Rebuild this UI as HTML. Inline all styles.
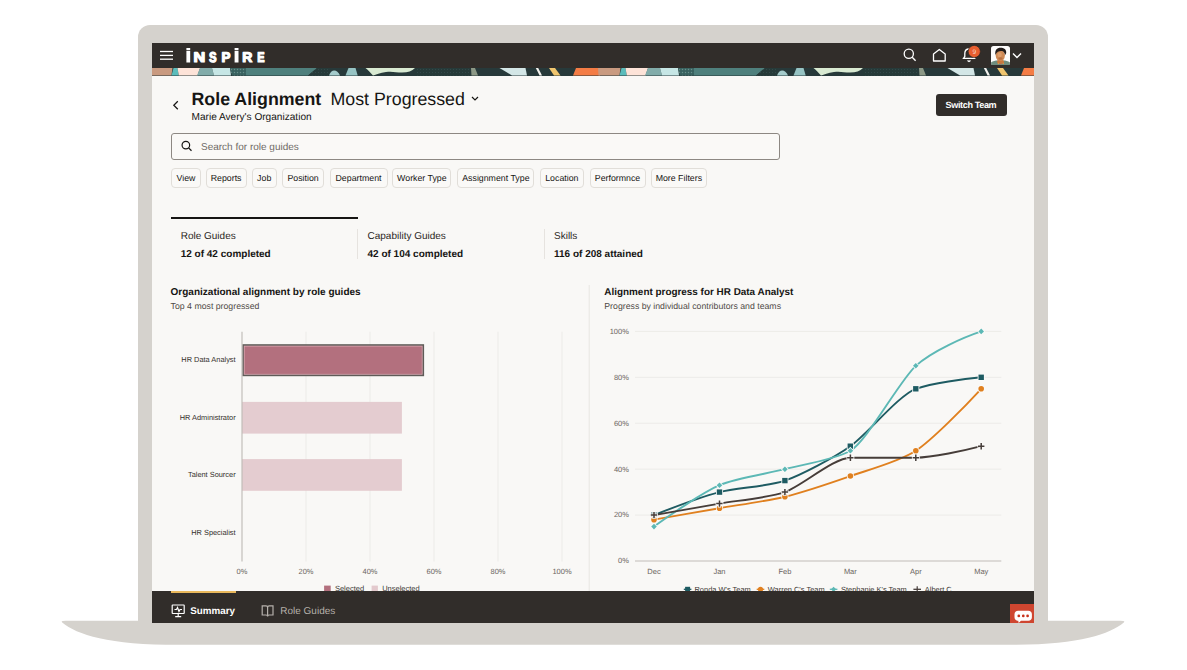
<!DOCTYPE html>
<html><head><meta charset="utf-8">
<style>
*{margin:0;padding:0;box-sizing:border-box}
html,body{width:1187px;height:670px;overflow:hidden;background:#fff}
body{position:relative;font-family:"Liberation Sans",sans-serif;color:#161513;text-rendering:geometricPrecision}
.a{position:absolute;white-space:nowrap;line-height:1}
#lid{position:absolute;left:138px;top:25px;width:910px;height:600px;background:#d5d2cd;border-radius:12px 12px 0 0}
#screen{position:absolute;left:152px;top:43px;width:882px;height:580px;background:#f9f8f6;overflow:hidden}
#nav{position:absolute;left:152px;top:43px;width:882px;height:25px;background:#312d2a}
#bot{position:absolute;left:152px;top:591px;width:882px;height:32px;background:#312d2a}
.chip{position:absolute;top:168px;height:19.5px;border:1px solid #e1ded9;border-radius:4px;background:#faf9f7;font-size:8.8px;line-height:18.3px;text-align:center;color:#161513}
.lbl{font-size:7.4px;color:#3a3632}
.ax{font-size:7.4px;color:#5b5652}
</style></head><body>
<div id="lid"></div>
<svg class="a" style="left:0;top:0" width="1187" height="670"><path d="M66,620.8 L1120,620.8 Q1125.8,620.8 1123.8,622.4 C1108.6,635 1075.6,645.5 1000,644.8 L186,644.8 C110.4,645.5 77.4,635 62.2,622.4 Q60.2,620.8 66,620.8Z" fill="#d5d2cd"/></svg>
<div id="screen"></div>
<div id="nav"></div>
<!-- banner -->
<svg class="a" style="left:152px;top:68px" width="882" height="8" viewBox="152 68 882 8" preserveAspectRatio="none">
<defs><pattern id="tx" width="3" height="3" patternUnits="userSpaceOnUse"><rect width="3" height="3" fill="#3d6866"/><rect width="1" height="1" fill="#6b8f8a"/><rect x="1.5" y="1.5" width="1" height="1" fill="#2c4a49"/></pattern>
<pattern id="tx2" width="3" height="3" patternUnits="userSpaceOnUse"><rect width="3" height="3" fill="#263a39"/><rect width="1" height="1" fill="#33494a"/></pattern></defs>
<rect x="152" y="68" width="882" height="8" fill="#27393a"/>
<g id="bp">
<polygon points="150,68 172.5,68 171.5,75.5 150.5,75.5" fill="#c99a80"/>
<polygon points="173.5,68 177.5,68 178.8,75.5 171.5,75.5" fill="#5bbcbb"/>
<polygon points="177.5,68 200,68 197.5,75.5 178.8,75.5" fill="#fde3d8"/>
<polygon points="200,68 212,68 214,75.5 197,75.5" fill="#82acaa"/>
<polygon points="212,68 230,68 231,75.5 214,75.5" fill="#c6e6e5"/>
<polygon points="230,68 246,68 246,75.5 232,75.5" fill="url(#tx)"/>
<polygon points="246,68 317,68 308,75.5 246,75.5" fill="#4f807d"/>
<polygon points="317,68 330,68 330,75.5 308,75.5" fill="url(#tx2)"/>
<path d="M329,75.5 C331,69 337,68.5 340,75.5Z" fill="#a4cbcb"/>
<polygon points="348.5,68 355.5,68 357.7,75.5 345.5,75.5" fill="#96c3c3"/>
<path d="M365.5,68 L415,68 C412,71 408,72.5 402,72.5 C396,72.5 392,71 386,72 C380,73 376,74.5 373,75.5 C370,72 368,70 365.5,68Z" fill="#d9ead2"/>
<polygon points="415,68 470,68 470,75.5 415,75.5" fill="url(#tx2)"/>
<polygon points="471,68 475,68 478,75.5 471.5,75.5" fill="#8c9886"/>
<polygon points="499.5,68 525.5,68 527,75.5 512,75.5" fill="#d3e6e6"/>
<polygon points="535.8,68 538.2,68 542,75.5 539.6,75.5" fill="#f4f2ee"/>
<polygon points="549,68 555,68 560.5,75.5 554,75.5" fill="#f0c56e"/>
<polygon points="576,68 599,68 600,75.5 573,75.5" fill="#f47c45"/>
</g>
<use href="#bp" x="448"/>
</svg>
<!-- nav contents -->
<svg class="a" style="left:159px;top:50px" width="15" height="11"><g stroke="#fff" stroke-width="1.3"><line x1="1" y1="1.5" x2="14" y2="1.5"/><line x1="1" y1="5.4" x2="14" y2="5.4"/><line x1="1" y1="9.2" x2="14" y2="9.2"/></g></svg>
<svg class="a" style="left:0;top:0" width="300" height="70"><g fill="#fff"><path d="M186.4,51.1h3.8v11.4h-3.8z M186.4,47.9h3.8v2.4h-3.8z M234.6,51.1h3.9v11.4h-3.9z M234.6,47.9h3.9v2.4h-3.9z"/><g font-size="14.0" font-weight="bold" stroke="#fff" stroke-width="1.2" stroke-linejoin="round"><text transform="translate(193.42,61.9) scale(1.156,1)">N</text><text transform="translate(209.06,61.9) scale(0.811,1)">S</text><text transform="translate(221.47,61.9) scale(0.955,1)">P</text><text transform="translate(242.26,61.9) scale(1.000,1)">R</text><text transform="translate(257.31,61.9) scale(0.784,1)">E</text></g></g></svg>
<svg class="a" style="left:900px;top:44px" width="130" height="24">
<g fill="none" stroke="#fff" stroke-width="1.3">
<circle cx="8.8" cy="9.8" r="4.6"/><line x1="12.2" y1="13.2" x2="15.6" y2="16.8"/>
<path d="M33.5,17 L33.5,10 L39.3,5.5 L45.2,10 L45.2,17Z" stroke-linejoin="round"/>
<path d="M63.5,14.3 L64.8,12.5 L64.8,9.5 C64.8,6.5 66.5,5 69,5 C71.5,5 73.2,6.5 73.2,9.5 L73.2,12.5 L74.5,14.3Z"/>
<path d="M67.5,16.5 L69,17.5 L70.5,16.5"/>
</g>
<circle cx="74.25" cy="7.5" r="6.1" fill="#e85e2f" stroke="#2a2624" stroke-width=".7"/>
<text x="74.4" y="9.9" font-size="6.6" fill="#f6d8cc" text-anchor="middle" font-family="Liberation Sans">9</text>
<path d="M113,9.5 L117,13.5 L121,9.5" fill="none" stroke="#fff" stroke-width="1.4"/>
</svg>
<svg class="a" style="left:991px;top:45.7px" width="19" height="19.4" viewBox="0 0 19 19.4">
<defs><clipPath id="av"><rect width="19" height="19.4" rx="2.6"/></clipPath></defs>
<g clip-path="url(#av)">
<rect width="19" height="19.4" fill="#fdfcfb"/>
<path d="M0,19.4 L0,16.5 C2,15.2 4.5,14.6 6.5,14.6 L12.5,14.6 C14.5,14.6 17,15.2 19,16.5 L19,19.4Z" fill="#6e8d7e"/>
<rect x="6" y="14" width="7" height="3.2" rx="1.5" fill="#c9783d"/>
<circle cx="7.5" cy="17.5" r=".8" fill="#e8903a"/><circle cx="10" cy="17.8" r=".8" fill="#e06a3a"/><circle cx="12.3" cy="17.5" r=".8" fill="#e8903a"/>
<ellipse cx="9.3" cy="9.6" rx="4.6" ry="5.4" fill="#cf8a55"/>
<ellipse cx="8.6" cy="8.8" rx="2.2" ry="2.6" fill="#e3a572" opacity=".7"/>
<ellipse cx="9.5" cy="12.5" rx="2" ry="1.2" fill="#a95f36" opacity=".6"/>
<path d="M4.4,9 C3.6,4.2 6,1.8 9.4,1.8 C13,1.8 15.6,3.6 15.2,7 C14.8,8.2 14.4,8.4 14,9.2 C13.8,6.5 12.5,5.2 10.5,5 C8.2,4.8 6,5.6 4.4,9Z" fill="#221b19"/>
</g></svg>
<!-- header -->
<svg class="a" style="left:171px;top:100px" width="10" height="12"><path d="M6.8,1.3 L2.8,5.3 L6.8,9.3" fill="none" stroke="#161513" stroke-width="1.25"/></svg>
<div class="a" id="t1" style="left:191.5px;top:91.2px;font-size:17.8px;font-weight:bold">Role Alignment</div>
<div class="a" id="t2" style="left:330.5px;top:91.2px;font-size:17.8px">Most Progressed</div>
<svg class="a" style="left:469.5px;top:95px" width="10" height="8"><path d="M2,2 L5,5 L8,2" fill="none" stroke="#161513" stroke-width="1.2"/></svg>
<div class="a" id="t3" style="left:191.5px;top:112.6px;font-size:10.1px">Marie Avery's Organization</div>
<div class="a" style="left:936px;top:94px;width:71px;height:22px;background:#312d2a;border-radius:3px"></div>
<div class="a" id="t4" style="left:945.6px;top:101.4px;font-size:9.1px;font-weight:bold;color:#fff;letter-spacing:-0.38px">Switch Team</div>
<!-- search -->
<div class="a" style="left:171px;top:132.5px;width:609px;height:27.5px;border:1px solid #8d8883;border-radius:3px;background:#faf9f7"></div>
<svg class="a" style="left:180px;top:140px" width="14" height="14"><circle cx="5.85" cy="5.1" r="3.8" fill="none" stroke="#161513" stroke-width="1.2"/><line x1="8.6" y1="7.9" x2="11.5" y2="10.8" stroke="#161513" stroke-width="1.3"/></svg>
<div class="a" id="t5" style="left:201px;top:143px;font-size:10px;color:#6f6a66">Search for role guides</div>
<!-- chips -->
<div class="chip" style="left:171px;width:30px">View</div>
<div class="chip" style="left:205.6px;width:41px">Reports</div>
<div class="chip" style="left:251.7px;width:25px">Job</div>
<div class="chip" style="left:282px;width:42.2px">Position</div>
<div class="chip" style="left:329.5px;width:58px">Department</div>
<div class="chip" style="left:392.4px;width:59px">Worker Type</div>
<div class="chip" style="left:457.3px;width:77.2px">Assignment Type</div>
<div class="chip" style="left:539.7px;width:44.3px">Location</div>
<div class="chip" style="left:589.5px;width:56px">Performnce</div>
<div class="chip" style="left:650.5px;width:56.7px">More Filters</div>
<!-- tabs -->
<div class="a" style="left:171px;top:216.5px;width:186.5px;height:2.5px;background:#161513"></div>
<div class="a" style="left:357px;top:229px;width:1px;height:30px;background:#e6e3df"></div>
<div class="a" style="left:543.5px;top:229px;width:1px;height:30px;background:#e6e3df"></div>
<div class="a" style="left:180.7px;top:231.8px;font-size:10px;color:#2b2724">Role Guides</div>
<div class="a" style="left:180.7px;top:250.3px;font-size:10px;font-weight:bold">12 of 42 completed</div>
<div class="a" style="left:367.5px;top:231.8px;font-size:10px;color:#2b2724">Capability Guides</div>
<div class="a" style="left:367.5px;top:250.3px;font-size:10px;font-weight:bold">42 of 104 completed</div>
<div class="a" style="left:554px;top:231.8px;font-size:10px;color:#2b2724">Skills</div>
<div class="a" style="left:554px;top:250.3px;font-size:10px;font-weight:bold">116 of 208 attained</div>
<div class="a" style="left:170.6px;top:287.8px;font-size:10px;font-weight:bold">Organizational alignment by role guides</div>
<div class="a" style="left:170.6px;top:301.7px;font-size:8.74px;color:#4f4a46">Top 4 most progressed</div>
<div class="a" style="left:604.3px;top:287.6px;font-size:9.91px;font-weight:bold">Alignment progress for HR Data Analyst</div>
<div class="a" style="left:604.3px;top:301.5px;font-size:8.74px;color:#4f4a46">Progress by individual contributors and teams</div>
<!--CH--><svg class="a" style="left:0;top:0" width="1187" height="670" font-family="Liberation Sans">
<g stroke="#ecebe8" stroke-width="1"><line x1="306" y1="331.7" x2="306" y2="561.5"/><line x1="370" y1="331.7" x2="370" y2="561.5"/><line x1="434" y1="331.7" x2="434" y2="561.5"/><line x1="498" y1="331.7" x2="498" y2="561.5"/><line x1="562" y1="331.7" x2="562" y2="561.5"/></g>
<rect x="242.3" y="344.2" width="181.8" height="32" fill="#5f5b58"/>
<rect x="243.8" y="345.7" width="178.8" height="29" fill="#dba9b2"/>
<rect x="244.6" y="346.5" width="177.2" height="27.4" fill="#b3707e"/>
<rect x="242" y="401.9" width="159.9" height="31.7" fill="#e3c9cd" fill-opacity=".95"/>
<rect x="242" y="459.1" width="159.9" height="31.7" fill="#e3c9cd" fill-opacity=".95"/>
<line x1="242" y1="331.7" x2="242" y2="561.5" stroke="#bdb9b5" stroke-width="1.1"/>
<g font-size="7.4" fill="#34302c" text-anchor="end"><text x="235.6" y="362.2">HR Data Analyst</text><text x="235.6" y="419.7">HR Administrator</text><text x="235.6" y="477.2">Talent Sourcer</text><text x="235.6" y="534.5">HR Specialist</text></g>
<g font-size="7.5" fill="#6b6560" text-anchor="middle"><text x="242" y="574">0%</text><text x="306" y="574">20%</text><text x="370" y="574">40%</text><text x="434" y="574">60%</text><text x="498" y="574">80%</text><text x="562" y="574">100%</text></g>
<rect x="324.1" y="585.6" width="6.6" height="6.6" fill="#b3707e"/><rect x="371.6" y="585.6" width="6.3" height="6.6" fill="#e3c9cd"/>
<g font-size="7.5" fill="#3a3632"><text x="334.9" y="591.3">Selected</text><text x="382.2" y="591.3">Unselected</text></g>
<line x1="589.2" y1="285" x2="589.2" y2="591" stroke="#e8e6e3" stroke-width="1"/>
<g stroke="#ecebe8" stroke-width="1"><line x1="635" y1="515.08" x2="1001.3" y2="515.08"/><line x1="635" y1="469.16" x2="1001.3" y2="469.16"/><line x1="635" y1="423.24" x2="1001.3" y2="423.24"/><line x1="635" y1="377.32" x2="1001.3" y2="377.32"/><line x1="635" y1="331.40" x2="1001.3" y2="331.40"/></g>
<line x1="635" y1="561.0" x2="1001.3" y2="561.0" stroke="#d3d0cc" stroke-width="1.4"/>
<g font-size="7.5" fill="#6b6560" text-anchor="end"><text x="628.9" y="563.3">0%</text><text x="628.9" y="517.4">20%</text><text x="628.9" y="471.5">40%</text><text x="628.9" y="425.5">60%</text><text x="628.9" y="379.6">80%</text><text x="628.9" y="333.7">100%</text></g>
<g font-size="7.5" fill="#6b6560" text-anchor="middle"><text x="654" y="574.1">Dec</text><text x="719.45" y="574.1">Jan</text><text x="784.9" y="574.1">Feb</text><text x="850.35" y="574.1">Mar</text><text x="915.8" y="574.1">Apr</text><text x="981.25" y="574.1">May</text></g>
<path d="M654.00,515.08C670.36,508.62 703.09,496.43 719.45,492.12C735.81,487.81 768.54,486.38 784.90,480.64C801.26,474.90 833.99,457.68 850.35,446.20C866.71,434.72 899.44,394.54 915.80,388.80C932.16,383.06 964.89,378.75 981.25,377.32" fill="none" stroke="#1e5b62" stroke-width="1.9"/>
<path d="M654.00,519.67C670.36,516.80 703.09,511.06 719.45,508.19C735.81,505.32 768.54,500.73 784.90,496.71C801.26,492.69 833.99,481.79 850.35,476.05C866.71,470.31 899.44,461.70 915.80,450.79C932.16,439.89 964.89,406.59 981.25,388.80" fill="none" stroke="#e0801f" stroke-width="1.9"/>
<path d="M654.00,526.56C670.36,514.65 703.09,492.41 719.45,485.23C735.81,478.06 768.54,473.46 784.90,469.16C801.26,464.85 833.99,459.98 850.35,450.79C866.71,441.61 899.44,380.76 915.80,365.84C932.16,350.92 964.89,336.85 981.25,331.40" fill="none" stroke="#5cb8b5" stroke-width="1.9"/>
<path d="M654.00,515.08C670.36,512.21 703.09,506.47 719.45,503.60C735.81,500.73 768.54,497.86 784.90,492.12C801.26,486.38 833.99,457.68 850.35,457.68C866.71,457.68 899.44,457.68 915.80,457.68C932.16,457.68 964.89,450.50 981.25,446.20" fill="none" stroke="#463d39" stroke-width="1.9"/>
<rect x="651.3" y="512.4" width="5.4" height="5.4" fill="#1e5b62" stroke="#fbfaf9" stroke-width="1.6" paint-order="stroke"/>
<rect x="716.8" y="489.4" width="5.4" height="5.4" fill="#1e5b62" stroke="#fbfaf9" stroke-width="1.6" paint-order="stroke"/>
<rect x="782.2" y="477.9" width="5.4" height="5.4" fill="#1e5b62" stroke="#fbfaf9" stroke-width="1.6" paint-order="stroke"/>
<rect x="847.6" y="443.5" width="5.4" height="5.4" fill="#1e5b62" stroke="#fbfaf9" stroke-width="1.6" paint-order="stroke"/>
<rect x="913.1" y="386.1" width="5.4" height="5.4" fill="#1e5b62" stroke="#fbfaf9" stroke-width="1.6" paint-order="stroke"/>
<rect x="978.5" y="374.6" width="5.4" height="5.4" fill="#1e5b62" stroke="#fbfaf9" stroke-width="1.6" paint-order="stroke"/>
<circle cx="654.0" cy="519.7" r="2.8" fill="#e0801f" stroke="#fbfaf9" stroke-width="1.6" paint-order="stroke"/>
<circle cx="719.5" cy="508.2" r="2.8" fill="#e0801f" stroke="#fbfaf9" stroke-width="1.6" paint-order="stroke"/>
<circle cx="784.9" cy="496.7" r="2.8" fill="#e0801f" stroke="#fbfaf9" stroke-width="1.6" paint-order="stroke"/>
<circle cx="850.4" cy="476.0" r="2.8" fill="#e0801f" stroke="#fbfaf9" stroke-width="1.6" paint-order="stroke"/>
<circle cx="915.8" cy="450.8" r="2.8" fill="#e0801f" stroke="#fbfaf9" stroke-width="1.6" paint-order="stroke"/>
<circle cx="981.2" cy="388.8" r="2.8" fill="#e0801f" stroke="#fbfaf9" stroke-width="1.6" paint-order="stroke"/>
<path d="M654.0,523.8l2.8,2.8l-2.8,2.8l-2.8,-2.8z" fill="#5cb8b5" stroke="#fbfaf9" stroke-width="1.6" paint-order="stroke"/>
<path d="M719.5,482.4l2.8,2.8l-2.8,2.8l-2.8,-2.8z" fill="#5cb8b5" stroke="#fbfaf9" stroke-width="1.6" paint-order="stroke"/>
<path d="M784.9,466.4l2.8,2.8l-2.8,2.8l-2.8,-2.8z" fill="#5cb8b5" stroke="#fbfaf9" stroke-width="1.6" paint-order="stroke"/>
<path d="M850.4,448.0l2.8,2.8l-2.8,2.8l-2.8,-2.8z" fill="#5cb8b5" stroke="#fbfaf9" stroke-width="1.6" paint-order="stroke"/>
<path d="M915.8,363.0l2.8,2.8l-2.8,2.8l-2.8,-2.8z" fill="#5cb8b5" stroke="#fbfaf9" stroke-width="1.6" paint-order="stroke"/>
<path d="M981.2,328.6l2.8,2.8l-2.8,2.8l-2.8,-2.8z" fill="#5cb8b5" stroke="#fbfaf9" stroke-width="1.6" paint-order="stroke"/>
<path d="M650.1,515.1h7.8M654.0,511.2v7.8" stroke="#fbfaf9" stroke-width="3.2"/><path d="M650.8,515.1h6.4M654.0,511.9v6.4" stroke="#463d39" stroke-width="1.5"/>
<path d="M715.6,503.6h7.8M719.5,499.7v7.8" stroke="#fbfaf9" stroke-width="3.2"/><path d="M716.2,503.6h6.4M719.5,500.4v6.4" stroke="#463d39" stroke-width="1.5"/>
<path d="M781.0,492.1h7.8M784.9,488.2v7.8" stroke="#fbfaf9" stroke-width="3.2"/><path d="M781.7,492.1h6.4M784.9,488.9v6.4" stroke="#463d39" stroke-width="1.5"/>
<path d="M846.5,457.7h7.8M850.4,453.8v7.8" stroke="#fbfaf9" stroke-width="3.2"/><path d="M847.1,457.7h6.4M850.4,454.5v6.4" stroke="#463d39" stroke-width="1.5"/>
<path d="M911.9,457.7h7.8M915.8,453.8v7.8" stroke="#fbfaf9" stroke-width="3.2"/><path d="M912.6,457.7h6.4M915.8,454.5v6.4" stroke="#463d39" stroke-width="1.5"/>
<path d="M977.4,446.2h7.8M981.2,442.3v7.8" stroke="#fbfaf9" stroke-width="3.2"/><path d="M978.0,446.2h6.4M981.2,443.0v6.4" stroke="#463d39" stroke-width="1.5"/>
<line x1="683.8000000000001" y1="589.3" x2="691.4" y2="589.3" stroke="#1e5b62" stroke-width="1.3"/>
<rect x="685.1" y="586.8" width="5" height="5" fill="#1e5b62"/>
<text x="694.5" y="592" font-size="7.45" fill="#3a3632">Ronda W's Team</text>
<line x1="756.7" y1="589.3" x2="764.3" y2="589.3" stroke="#e0801f" stroke-width="1.3"/>
<circle cx="760.5" cy="589.3" r="2.6" fill="#e0801f"/>
<text x="767.8" y="592" font-size="7.45" fill="#3a3632">Warren C's Team</text>
<line x1="829.8000000000001" y1="589.3" x2="837.4" y2="589.3" stroke="#5cb8b5" stroke-width="1.3"/>
<path d="M833.6,586.6999999999999l2.6,2.6l-2.6,2.6l-2.6,-2.6z" fill="#5cb8b5"/>
<text x="841" y="592" font-size="7.45" fill="#3a3632">Stephanie K's Team</text>
<line x1="913.4000000000001" y1="589.3" x2="921.0" y2="589.3" stroke="#463d39" stroke-width="1.3"/>
<path d="M917.2,586.3v6" stroke="#463d39" stroke-width="1.2"/>
<text x="924.8" y="592" font-size="7.45" fill="#3a3632">Albert C</text>
</svg><!--/CH-->
<div id="bot"></div>
<div class="a" style="left:171px;top:591px;width:64.7px;height:2px;background:#e9b85c"></div>
<svg class="a" style="left:171px;top:604px" width="15" height="14"><g fill="none" stroke="#fff" stroke-width="1.2"><rect x="1.2" y="1" width="12" height="8.5" rx=".5"/><path d="M3.5,5.5 L5.5,5.5 L6.5,3.5 L8,7.5 L9,5.5 L11,5.5"/><path d="M7.2,9.5 V12.5 M4.2,12.6 H10.2"/></g></svg>
<div class="a" style="left:190.3px;top:607.3px;font-size:9.82px;font-weight:bold;color:#fff">Summary</div>
<svg class="a" style="left:261px;top:604px" width="14" height="14"><g fill="none" stroke="#b5b0ab" stroke-width="1.2"><path d="M1.2,1.8 H5 C6,1.8 6.6,2.4 6.6,3.4 V12.5 C6.6,11.6 6,11 5,11 H1.2Z M12,1.8 H8.2 C7.2,1.8 6.6,2.4 6.6,3.4 V12.5 C6.6,11.6 7.2,11 8.2,11 H12Z"/></g></svg>
<div class="a" style="left:280.3px;top:607.3px;font-size:9.99px;color:#b5b0ab">Role Guides</div>
<div class="a" style="left:1009.8px;top:603.7px;width:24.2px;height:19.3px;background:#cf4630"></div>
<svg class="a" style="left:1010px;top:604px" width="24" height="19"><path d="M8,6.8 H18.4 C20.4,6.8 21.9,8.2 21.9,10.2 V13.3 C21.9,15.3 20.4,16.7 18.4,16.7 H11 L8.6,19 L8.3,16.7 H8 C6,16.7 4.5,15.3 4.5,13.3 V10.2 C4.5,8.2 6,6.8 8,6.8Z" fill="#fff"/><g fill="#c8321c"><circle cx="8.8" cy="11.9" r="1.35"/><circle cx="13.3" cy="11.9" r="1.35"/><circle cx="17.6" cy="11.9" r="1.35"/></g></svg>

</body></html>
